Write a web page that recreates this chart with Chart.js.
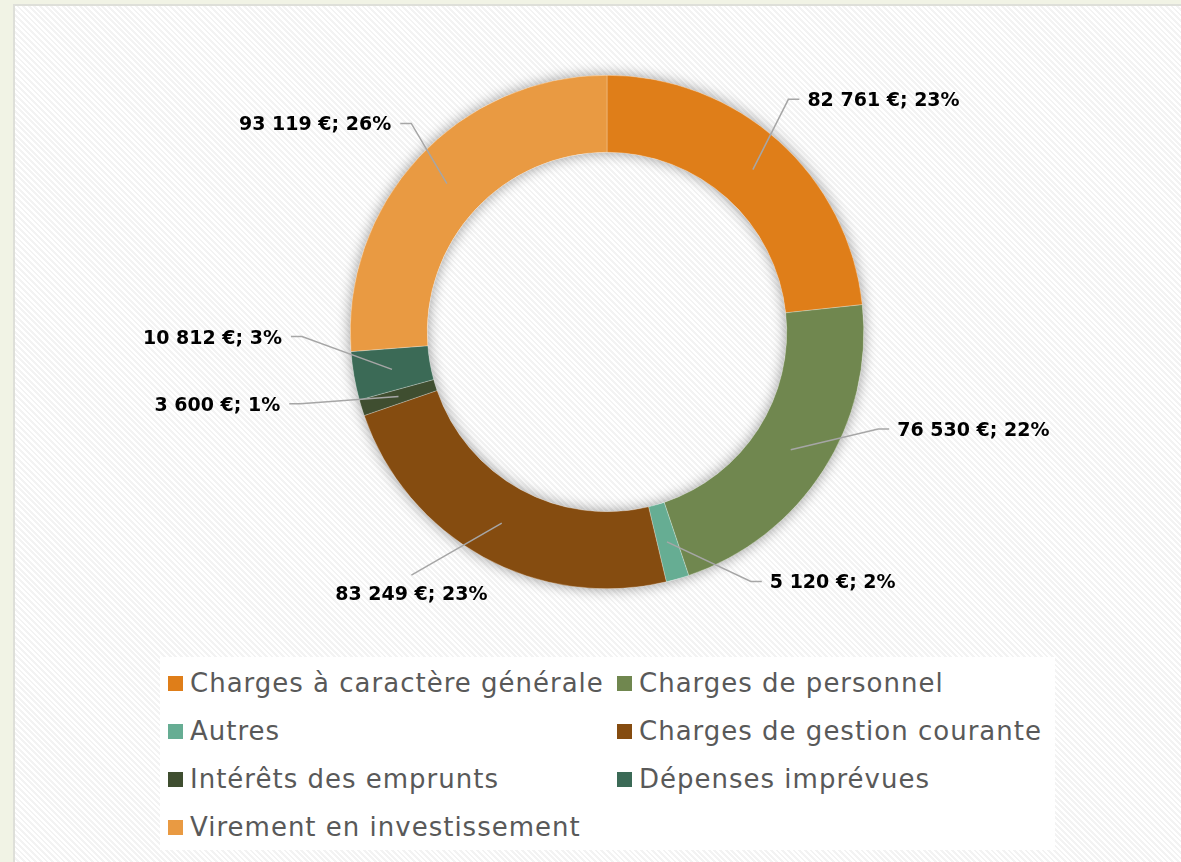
<!DOCTYPE html>
<html lang="fr">
<head>
<meta charset="utf-8">
<title>Dépenses de fonctionnement</title>
<script src="https://cdn.jsdelivr.net/npm/chart.js@4.4.1/dist/chart.umd.min.js"></script>
<style>
  html, body { margin: 0; padding: 0; }
  body {
    width: 1181px; height: 862px; position: relative; overflow: hidden;
    background: #f1f3e5;
    font-family: "DejaVu Sans", sans-serif;
  }
  #cadre {
    position: absolute; left: 13px; top: 4px; right: 0; bottom: 0;
    border-left: 2px solid #dedfd9; border-top: 2px solid #dedfd9;
    background: repeating-linear-gradient(45deg, #ffffff 0 2px, #f3f3f3 2px 4px);
  }
  #depenses { position: absolute; left: 0; top: 0; }
  #legende {
    position: absolute; left: 160px; top: 657px; width: 895px; height: 193px;
    background: #ffffff; box-sizing: border-box; padding: 2px 0 0 8px;
    display: grid; grid-template-columns: 449px auto; grid-auto-rows: 48px;
  }
  .item { display: flex; align-items: center; color: #595959; font-size: 26px; letter-spacing: 1px; white-space: nowrap; }
  .item span.carre { width: 15px; height: 15px; margin-right: 7px; flex: none; }
</style>
</head>
<body>
<div id="cadre"></div>
<canvas id="depenses" width="1181" height="862"></canvas>
<div id="legende"></div>

<script>
// postes de dépenses
const categories = [
    'Charges à caractère générale',
    'Charges de personnel',
    'Autres',
    'Charges de gestion courante',
    'Intérêts des emprunts',
    'Dépenses imprévues',
    'Virement en investissement'
];
const montants = [82761, 76530, 5120, 83249, 3600, 10812, 93119]; // en euros
const pourcentages = [23, 22, 2, 23, 1, 3, 26]; // tels qu'affichés
const couleurs = ['#df7e19', '#70874f', '#66ad93', '#854c10', '#3f4e30', '#3b6a56', '#e99a42'];

// placement des étiquettes (décalage angulaire en degrés, rayon du coude, côté du texte)
const placementEtiquettes = [
    { decalage: -4, rayon: 295, cote: 'droite' },
    { decalage: -13, rayon: 288, cote: 'droite' },
    { decalage: -14, rayon: 288, cote: 'droite' },
    { decalage: 10, rayon: 312, cote: 'dessous' },
    { decalage: 4, rayon: 315, cote: 'gauche' },
    { decalage: 9, rayon: 305, cote: 'gauche' },
    { decalage: 4, rayon: 286, cote: 'gauche' }
];

function formatEuros(v) {
    return String(v).replace(/\B(?=(\d{3})+(?!\d))/g, ' ') + ' €';
}

// ombre douce sous l'anneau
const ombrePlugin = {
    id: 'ombre',
    beforeDatasetsDraw(chart) {
        const arc = chart.getDatasetMeta(0).data[0];
        if (!arc) return;
        const ctx = chart.ctx;
        ctx.save();
        ctx.beginPath();
        ctx.arc(arc.x, arc.y, arc.outerRadius, 0, Math.PI * 2);
        ctx.arc(arc.x, arc.y, arc.innerRadius, 0, Math.PI * 2, true);
        ctx.fillStyle = '#ffffff';
        ctx.shadowColor = 'rgba(0, 0, 0, 0.4)';
        ctx.shadowBlur = 14;
        ctx.fill();
        ctx.restore();
    }
};

// étiquettes avec lignes de rappel
const etiquettesPlugin = {
    id: 'etiquettes',
    afterDatasetsDraw(chart) {
        const ctx = chart.ctx;
        const meta = chart.getDatasetMeta(0);
        ctx.save();
        ctx.font = 'bold 19px "DejaVu Sans"';
        ctx.fillStyle = '#000000';
        ctx.strokeStyle = '#a6a6a6';
        ctx.lineWidth = 1.5;
        meta.data.forEach((arc, i) => {
            const milieu = (arc.startAngle + arc.endAngle) / 2;
            const rMilieu = (arc.innerRadius + arc.outerRadius) / 2;
            const x0 = arc.x + Math.cos(milieu) * rMilieu;
            const y0 = arc.y + Math.sin(milieu) * rMilieu;
            const pl = placementEtiquettes[i];
            const a = milieu + pl.decalage * Math.PI / 180;
            const x1 = arc.x + Math.cos(a) * pl.rayon;
            const y1 = arc.y + Math.sin(a) * pl.rayon;
            const texte = formatEuros(montants[i]) + '; ' + pourcentages[i] + '%';

            ctx.beginPath();
            ctx.moveTo(x0, y0);
            ctx.lineTo(x1, y1);
            if (pl.cote === 'droite') {
                ctx.lineTo(x1 + 11, y1);
                ctx.stroke();
                ctx.textAlign = 'left';
                ctx.textBaseline = 'middle';
                ctx.fillText(texte, x1 + 19, y1 + 2);
            } else if (pl.cote === 'gauche') {
                ctx.lineTo(x1 - 11, y1);
                ctx.stroke();
                ctx.textAlign = 'right';
                ctx.textBaseline = 'middle';
                ctx.fillText(texte, x1 - 20, y1 + 2);
            } else {
                ctx.stroke();
                ctx.textAlign = 'center';
                ctx.textBaseline = 'middle';
                ctx.fillText(texte, x1, y1 + 20);
            }
        });
        ctx.restore();
    }
};

const ctx = document.getElementById('depenses').getContext('2d');
const graphique = new Chart(ctx, {
    type: 'doughnut',
    data: {
        labels: categories,
        datasets: [{
            data: montants,
            backgroundColor: couleurs,
            borderColor: 'rgba(255, 255, 255, 0.5)',
            borderWidth: 0.5
        }]
    },
    options: {
        responsive: false,
        animation: false,
        devicePixelRatio: 1,
        cutout: '70%',
        layout: {
            padding: { left: 350, right: 317, top: 75, bottom: 273 }
        },
        plugins: {
            legend: { display: false },
            tooltip: { enabled: false }
        }
    },
    plugins: [ombrePlugin, etiquettesPlugin]
});

// légende sur deux colonnes, construite depuis le graphique
const legende = document.getElementById('legende');
graphique.options.plugins.legend.labels.generateLabels(graphique).forEach(item => {
    const div = document.createElement('div');
    div.className = 'item';
    const carre = document.createElement('span');
    carre.className = 'carre';
    carre.style.background = item.fillStyle;
    div.appendChild(carre);
    div.appendChild(document.createTextNode(item.text));
    legende.appendChild(div);
});
</script>
</body>
</html>
